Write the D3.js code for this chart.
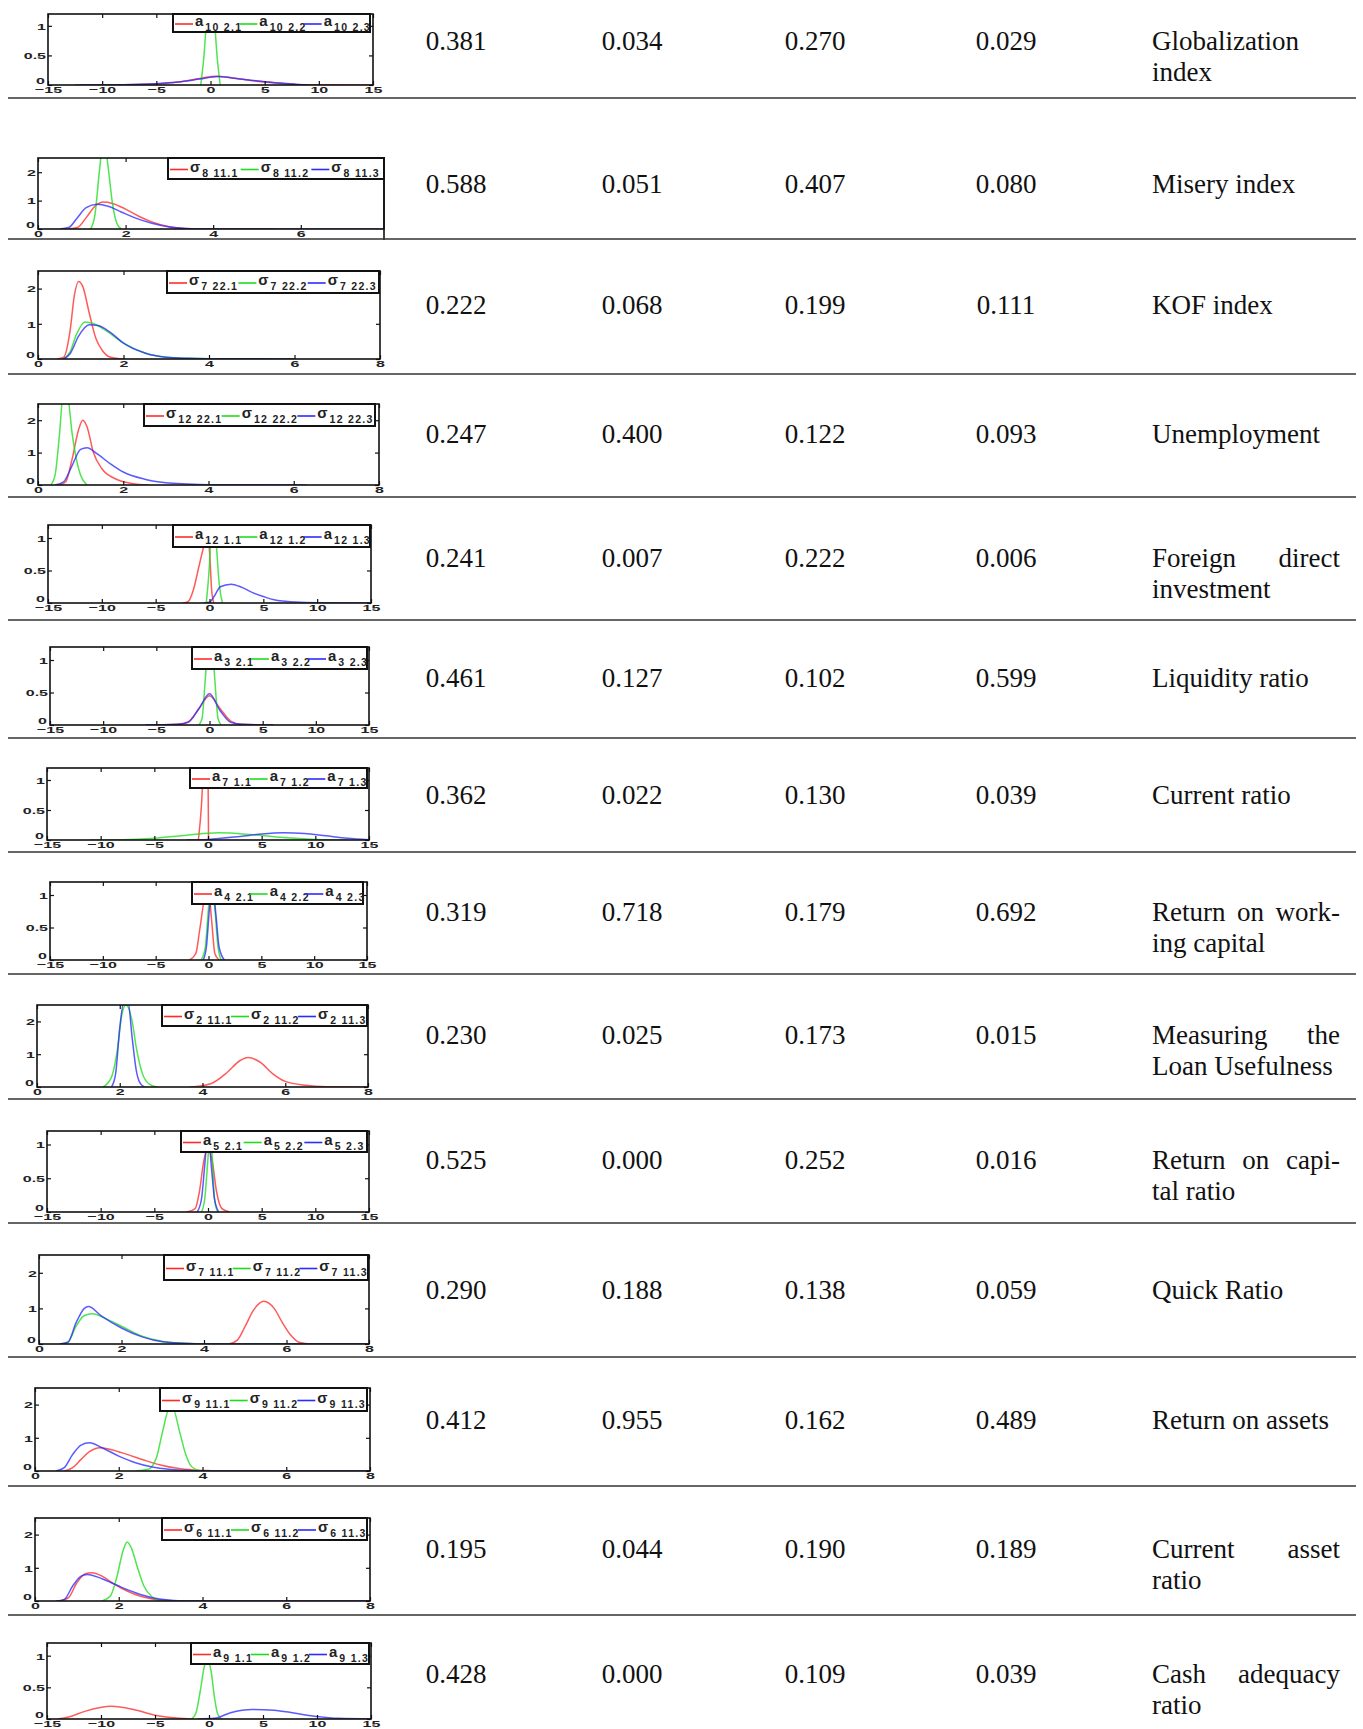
<!DOCTYPE html>
<html><head><meta charset="utf-8">
<script src="https://cdn.jsdelivr.net/npm/d3@7"></script>
<style>body{margin:0;background:#fff}svg{display:block}</style>
</head><body>
<svg id="chart" width="1363" height="1729"></svg>
<script>
// ---------------- DATA ----------------
const labelLines = [
  ["Globalization", "index"],
  ["Misery index"],
  ["KOF index"],
  ["Unemployment"],
  ["Foreign direct", "investment"],
  ["Liquidity ratio"],
  ["Current ratio"],
  ["Return on work-", "ing capital"],
  ["Measuring the", "Loan Usefulness"],
  ["Return on capi-", "tal ratio"],
  ["Quick Ratio"],
  ["Return on assets"],
  ["Current asset", "ratio"],
  ["Cash adequacy", "ratio"]
];
const col1 = [0.381,0.588,0.222,0.247,0.241,0.461,0.362,0.319,0.230,0.525,0.290,0.412,0.195,0.428];
const col2 = [0.034,0.051,0.068,0.400,0.007,0.127,0.022,0.718,0.025,0.000,0.188,0.955,0.044,0.000];
const col3 = [0.270,0.407,0.199,0.122,0.222,0.102,0.130,0.179,0.173,0.252,0.138,0.162,0.190,0.109];
const col4 = [0.029,0.080,0.111,0.093,0.006,0.599,0.039,0.692,0.015,0.016,0.059,0.489,0.189,0.039];

const legendSymbol = ["a","σ","σ","σ","a","a","a","a","σ","a","σ","σ","σ","a"];
const legendSub = ["10 2.","8 11.","7 22.","12 22.","12 1.","3 2.","7 1.","4 2.","2 11.","5 2.","7 11.","9 11.","6 11.","9 1."];
const seriesSuffix = ["1","2","3"];

const xTicksWide = [-15,-10,-5,0,5,10,15];
const xTicksNarrow = [0,2,4,6,8];
const yTicksWide = [0,0.5,1];
const yTicksNarrow = [0,1,2];

// curve points per row: [red, green, blue]
const globalizationCurves = [
  [[-12,0],[-8,0.005],[-5,0.02],[-3,0.05],[-1,0.11],[0.5,0.15],[2,0.12],[4,0.07],[6,0.035],[8,0.01],[10,0.003],[13,0],[15,0]],
  [[-0.9,0],[-0.6,0.5],[-0.3,1.3],[0,2.0],[0.3,1.3],[0.6,0.5],[0.9,0]],
  [[-12.5,0],[-8,0.006],[-5,0.022],[-3,0.05],[-1,0.1],[0.7,0.145],[2,0.12],[4,0.075],[6,0.04],[8,0.01],[9,0.003]]
];
const miseryCurves = [
  [[0.7,0],[0.9,0.05],[1.1,0.4],[1.3,0.8],[1.5,0.95],[1.7,0.9],[2,0.7],[2.3,0.45],[2.6,0.25],[3,0.08],[3.5,0.01],[4,0],[5.4,0]],
  [[1.2,0],[1.3,0.5],[1.4,2.0],[1.5,3.2],[1.6,2.2],[1.7,0.9],[1.8,0.2],[1.9,0]],
  [[0.5,0],[0.7,0.05],[0.9,0.4],[1.1,0.75],[1.35,0.87],[1.6,0.8],[1.9,0.6],[2.2,0.4],[2.6,0.2],[3,0.07],[3.5,0.01],[4,0],[8,0]]
];
const kofCurves = [
  [[0.45,0],[0.6,0.05],[0.75,0.8],[0.85,1.8],[0.95,2.2],[1.05,2.05],[1.2,1.3],[1.35,0.6],[1.5,0.25],[1.7,0.05],[2,0]],
  [[0.6,0],[0.75,0.2],[0.9,0.7],[1.1,1.05],[1.3,1.0],[1.6,0.8],[2,0.45],[2.5,0.17],[3,0.05],[3.5,0.02],[4,0.01],[6,0]],
  [[0.6,0],[0.75,0.15],[0.95,0.65],[1.2,0.97],[1.4,0.95],[1.7,0.75],[2,0.45],[2.5,0.17],[3,0.05],[3.5,0.02],[4,0.01],[6,0]]
];
const unemploymentCurves = [
  [[0.5,0],[0.65,0.1],[0.8,0.8],[0.95,1.7],[1.05,2.0],[1.15,1.8],[1.3,1.0],[1.5,0.5],[1.8,0.2],[2.2,0.05],[2.6,0]],
  [[0.3,0],[0.4,0.3],[0.5,1.5],[0.6,2.9],[0.7,2.7],[0.8,1.6],[0.9,0.8],[1.0,0.3],[1.15,0]],
  [[0.4,0],[0.6,0.1],[0.8,0.6],[1.0,1.1],[1.15,1.15],[1.4,0.95],[1.7,0.65],[2,0.4],[2.5,0.18],[3,0.07],[3.5,0.03],[4,0.01],[6.3,0]]
];
const fdiCurves = [
  [[-2.5,0],[-2,0.02],[-1.5,0.2],[-1,0.55],[-0.5,0.9],[-0.2,1.1],[0,0.8],[0.2,0.2],[0.4,0]],
  [[-0.3,0],[0,0.6],[0.2,1.3],[0.4,1.5],[0.6,1.0],[0.9,0.3],[1.2,0]],
  [[-0.5,0],[0,0.01],[0.5,0.12],[1,0.25],[2,0.29],[3,0.24],[4,0.16],[5,0.1],[6,0.05],[8,0.015],[10,0.005],[15,0]]
];
const liquidityCurves = [
  [[-6,0],[-3,0.01],[-2,0.05],[-1,0.25],[0,0.45],[1,0.25],[2,0.06],[3,0.01],[6,0]],
  [[-1,0],[-0.7,0.1],[-0.4,0.7],[-0.1,1.3],[0.2,1.3],[0.5,0.7],[0.8,0.1],[1.1,0]],
  [[-6,0],[-3,0.01],[-2,0.04],[-1,0.25],[0,0.48],[1,0.22],[2,0.04],[3,0.01],[6,0]]
];
const currentRatioCurves = [
  [[-0.9,0],[-0.6,0.6],[-0.4,1.3],[-0.2,1.8],[0,1.2],[0.05,0]],
  [[-11,0],[-8,0.005],[-5,0.03],[-2,0.08],[1,0.12],[4,0.09],[7,0.04],[10,0.01],[13,0]],
  [[-2,0],[0,0.01],[3,0.06],[5,0.1],[7,0.12],[9,0.11],[11,0.07],[13,0.03],[15,0.005]]
];
const workingCapitalCurves = [
  [[-1.8,0],[-1.2,0.1],[-0.8,0.5],[-0.3,1.0],[0,1.05],[0.3,0.6],[0.6,0.1],[1,0]],
  [[-0.7,0],[-0.3,0.2],[0,0.8],[0.3,1.3],[0.6,0.8],[0.9,0.2],[1.2,0]],
  [[-0.5,0],[-0.2,0.2],[0.1,0.8],[0.4,1.1],[0.7,0.7],[1,0.2],[1.5,0]]
];
const loanUsefulnessCurves = [
  [[3.7,0],[4.2,0.1],[4.6,0.45],[4.9,0.8],[5.1,0.9],[5.4,0.75],[5.7,0.4],[6,0.17],[6.5,0.05],[7,0.01],[8,0]],
  [[1.6,0],[1.8,0.3],[1.95,1.2],[2.05,2.2],[2.15,2.5],[2.3,2.0],[2.4,1.2],[2.55,0.4],[2.7,0.1],[2.9,0]],
  [[1.8,0],[1.9,0.4],[2.0,1.8],[2.1,2.6],[2.2,2.6],[2.3,1.5],[2.4,0.5],[2.5,0.1],[2.6,0]]
];
const capitalRatioCurves = [
  [[-2,0],[-1.2,0.05],[-0.8,0.3],[-0.4,0.75],[0,0.95],[0.4,0.75],[0.8,0.3],[1.3,0.05],[2,0]],
  [[-0.6,0],[-0.3,0.2],[0,0.8],[0.2,1.2],[0.4,0.8],[0.6,0.2],[0.9,0]],
  [[-1,0],[-0.6,0.2],[-0.3,0.7],[0,1.2],[0.3,0.7],[0.6,0.2],[1,0]]
];
const quickRatioCurves = [
  [[4.6,0],[4.8,0.1],[5.0,0.5],[5.2,0.95],[5.45,1.2],[5.7,1.0],[5.9,0.6],[6.1,0.25],[6.3,0.05],[6.6,0],[8,0]],
  [[0.5,0],[0.7,0.05],[0.9,0.5],[1.1,0.8],[1.3,0.85],[1.6,0.72],[2,0.5],[2.5,0.22],[3,0.07],[3.5,0.02],[4,0],[8,0]],
  [[0.5,0],[0.7,0.05],[0.9,0.6],[1.1,1.0],[1.2,1.05],[1.5,0.8],[2,0.45],[2.5,0.2],[3,0.06],[3.5,0.02],[4,0],[8,0]]
];
const assetsCurves = [
  [[0.7,0],[0.9,0.1],[1.1,0.35],[1.3,0.58],[1.55,0.7],[1.8,0.65],[2.2,0.5],[2.6,0.33],[3,0.18],[3.4,0.08],[3.8,0.03],[4.2,0.01],[4.6,0],[8,0]],
  [[2.4,0],[2.7,0.05],[2.9,0.4],[3.05,1.2],[3.2,1.85],[3.3,1.85],[3.45,1.2],[3.6,0.5],[3.75,0.12],[4,0],[4.2,0]],
  [[0.5,0],[0.7,0.1],[0.9,0.5],[1.1,0.78],[1.3,0.85],[1.6,0.7],[2,0.45],[2.4,0.25],[2.8,0.12],[3.2,0.05],[3.6,0.02],[4,0],[8,0]]
];
const currentAssetCurves = [
  [[0.6,0],[0.8,0.1],[1.0,0.55],[1.2,0.82],[1.35,0.85],[1.6,0.75],[1.9,0.5],[2.2,0.3],[2.5,0.15],[2.8,0.06],[3.2,0.01],[3.5,0],[8,0]],
  [[1.6,0],[1.8,0.15],[1.95,0.7],[2.1,1.5],[2.2,1.78],[2.3,1.6],[2.45,1.0],[2.6,0.45],[2.8,0.12],[3,0.02],[3.2,0]],
  [[0.5,0],[0.7,0.05],[0.9,0.45],[1.1,0.75],[1.25,0.8],[1.6,0.67],[2,0.45],[2.4,0.25],[2.8,0.1],[3.2,0.03],[3.6,0],[8,0]]
];
const cashAdequacyCurves = [
  [[-14,0],[-13,0.03],[-11.5,0.12],[-9,0.2],[-7,0.15],[-5,0.06],[-3,0.015],[-1.5,0]],
  [[-1.6,0],[-1.2,0.1],[-0.8,0.45],[-0.4,0.85],[-0.1,0.92],[0.2,0.75],[0.5,0.35],[0.8,0.08],[1.2,0]],
  [[-1,0],[0.5,0.01],[2,0.1],[4,0.15],[6,0.14],[8,0.09],[10,0.04],[12,0.01],[15,0]]
];
const curveSets = [globalizationCurves, miseryCurves, kofCurves, unemploymentCurves, fdiCurves,
  liquidityCurves, currentRatioCurves, workingCapitalCurves, loanUsefulnessCurves, capitalRatioCurves,
  quickRatioCurves, assetsCurves, currentAssetCurves, cashAdequacyCurves];

// ---------------- LAYOUT ----------------
const panels = [
  {box:[48,373,14,85],     leg:[173,370,14,32],     wide:true,  base:50,   sep:98},
  {box:[38,384,158,229],   leg:[168,384,158,179],   wide:false, base:193,  sep:239, xmax:7.9, openRight:true},
  {box:[38,380,271,359],   leg:[167,379,271,293],   wide:false, base:314,  sep:374},
  {box:[38,379,404,485],   leg:[144,375,404,426],   wide:false, base:443,  sep:497},
  {box:[48,371,525,603],   leg:[173,370,525,547],   wide:true,  base:567,  sep:620},
  {box:[50,369,647,725],   leg:[192,367,647,669],   wide:true,  base:687,  sep:738},
  {box:[47,369,768,840],   leg:[190,367,768,788],   wide:true,  base:804,  sep:852},
  {box:[50,367,882,960],   leg:[192,363,882,904],   wide:true,  base:921,  sep:974},
  {box:[37,368,1005,1087], leg:[162,367,1005,1026], wide:false, base:1044, sep:1099},
  {box:[47,369,1131,1212], leg:[181,367,1131,1152], wide:true,  base:1169, sep:1223},
  {box:[39,369,1255,1344], leg:[164,368,1255,1280], wide:false, base:1299, sep:1357},
  {box:[35,370,1388,1471], leg:[160,367,1388,1411], wide:false, base:1429, sep:1486},
  {box:[35,370,1518,1601], leg:[162,367,1518,1540], wide:false, base:1558, sep:1615},
  {box:[47,371,1643,1719], leg:[191,369,1643,1664], wide:true,  base:1683, sep:null}
];
const colX = [456, 632, 815, 1006];
const labelX0 = 1152, labelX1 = 1340;
const lineGap = 31;
const colors = ["#ff2b2b", "#1fdc1f", "#2b2bff"];
const serif = "'Liberation Serif','Times New Roman',serif";
const sans = "'Liberation Sans',Arial,sans-serif";

const svg = d3.select("#chart");
svg.append("rect").attr("width",1363).attr("height",1729).attr("fill","#fff");
const defs = svg.append("defs");
const fmt = d3.format(".3f");
const tickFmt = d3.format("");

panels.forEach((p, i) => {
  const [x0, x1, y0, y1] = p.box;
  const xd = p.wide ? [-15, 15] : [0, p.xmax || 8];
  const yd = p.wide ? [0, 1.2] : [0, 2.5];
  const xt = (p.wide ? xTicksWide : xTicksNarrow).filter(v => v <= xd[1]);
  const yt = p.wide ? yTicksWide : yTicksNarrow;
  const x = d3.scaleLinear().domain(xd).range([x0, x1]);
  const y = d3.scaleLinear().domain(yd).range([y1, y0]);
  const g = svg.append("g");

  const cid = "clip" + i;
  defs.append("clipPath").attr("id", cid).append("rect")
    .attr("x", x0).attr("y", y0).attr("width", x1 - x0).attr("height", y1 - y0);

  const line = d3.line().x(d => x(d[0])).y(d => y(d[1])).curve(d3.curveMonotoneX);
  const cg = g.append("g").attr("clip-path", `url(#${cid})`);
  curveSets[i].forEach((pts, k) => {
    cg.append("path").attr("d", line(pts)).attr("fill", "none")
      .attr("stroke", colors[k]).attr("stroke-width", 1.5).attr("stroke-opacity", 0.78)
      .attr("stroke-linejoin", "round");
  });

  // axes (ticks inside)
  const styleAxis = sel => {
    sel.select(".domain").remove();
    sel.selectAll(".tick line").attr("stroke", "#111").attr("stroke-width", 1.2);
  };
  const bx = g.append("g").attr("transform", `translate(0,${y1})`)
    .call(d3.axisBottom(x).tickValues(xt).tickSize(-4).tickFormat(tickFmt));
  styleAxis(bx);
  bx.selectAll(".tick text").attr("y", null).attr("dy", "0.35em")
    .attr("transform", "translate(0,5) scale(1,0.6)")
    .attr("font-family", sans).attr("font-weight", "bold").attr("font-size", 16).attr("fill", "#222");
  const lx = g.append("g").attr("transform", `translate(${x0},0)`)
    .call(d3.axisLeft(y).tickValues(yt).tickSize(-4).tickFormat(tickFmt));
  styleAxis(lx);
  lx.selectAll(".tick text").attr("x", null).attr("dy", "0.35em")
    .attr("transform", d => d === 0 ? "translate(-3,-5) scale(1,0.6)" : "translate(-2,0) scale(1,0.6)")
    .attr("font-family", sans).attr("font-weight", "bold").attr("font-size", 16).attr("fill", "#222");
  const tx = g.append("g").attr("transform", `translate(0,${y0})`)
    .call(d3.axisTop(x).tickValues(xt).tickSize(-4).tickFormat(""));
  styleAxis(tx);
  if (!p.openRight) {
    const rx = g.append("g").attr("transform", `translate(${x1},0)`)
      .call(d3.axisRight(y).tickValues(yt).tickSize(-4).tickFormat(""));
    styleAxis(rx);
  }

  // frame
  g.append("rect").attr("x", x0).attr("y", y0).attr("width", x1 - x0).attr("height", y1 - y0)
    .attr("fill", "none").attr("stroke", "#111").attr("stroke-width", 1.6);
  if (p.openRight) {
    g.append("line").attr("x1", x1).attr("x2", x1).attr("y1", y0).attr("y2", p.sep + 1)
      .attr("stroke", "#111").attr("stroke-width", 1.6);
  }

  // legend
  const [lx0, lx1, ly0, ly1] = p.leg;
  const lg = g.append("g");
  lg.append("rect").attr("x", lx0).attr("y", ly0).attr("width", lx1 - lx0).attr("height", ly1 - ly0)
    .attr("fill", "#fff").attr("stroke", "#111").attr("stroke-width", 2);
  const ew = (lx1 - lx0 - 4) / 3;
  const ly = (ly0 + ly1) / 2 + 1;
  seriesSuffix.forEach((s, k) => {
    const ex = lx0 + 2 + k * ew;
    lg.append("line").attr("x1", ex).attr("x2", ex + 18).attr("y1", ly).attr("y2", ly)
      .attr("stroke", colors[k]).attr("stroke-width", 1.6);
    const t = lg.append("text").attr("x", ex + 20).attr("y", ly + 2)
      .attr("font-family", sans).attr("font-weight", "bold").attr("fill", "#222");
    t.append("tspan").attr("font-size", 15).text(legendSymbol[i]);
    t.append("tspan").attr("font-size", 10.5).attr("dy", 5).attr("dx", 2)
      .attr("letter-spacing", 1.3).text(legendSub[i] + s);
  });

  // numeric columns
  [col1, col2, col3, col4].forEach((col, c) => {
    svg.append("text").attr("x", colX[c]).attr("y", p.base).attr("text-anchor", "middle")
      .attr("font-family", serif).attr("font-size", 27).attr("fill", "#111").text(fmt(col[i]));
  });

  // label column (justified)
  const lines = labelLines[i];
  lines.forEach((ln, li) => {
    const yy = p.base + li * lineGap;
    const words = ln.split(" ");
    const justify = li < lines.length - 1 && words.length > 1;
    if (!justify) {
      svg.append("text").attr("x", labelX0).attr("y", yy).attr("font-family", serif)
        .attr("font-size", 27).attr("fill", "#111").text(ln);
    } else {
      const nodes = words.map(w => svg.append("text").attr("y", yy).attr("font-family", serif)
        .attr("font-size", 27).attr("fill", "#111").text(w));
      const widths = nodes.map(n => n.node().getComputedTextLength());
      const gap = (labelX1 - labelX0 - d3.sum(widths)) / (words.length - 1);
      let cx = labelX0;
      nodes.forEach((n, k) => { n.attr("x", cx); cx += widths[k] + gap; });
    }
  });

  // separator
  if (p.sep !== null) {
    svg.append("line").attr("x1", 8).attr("x2", 1356).attr("y1", p.sep).attr("y2", p.sep)
      .attr("stroke", "#333").attr("stroke-width", 1.4);
  }
});
</script>
</body></html>
